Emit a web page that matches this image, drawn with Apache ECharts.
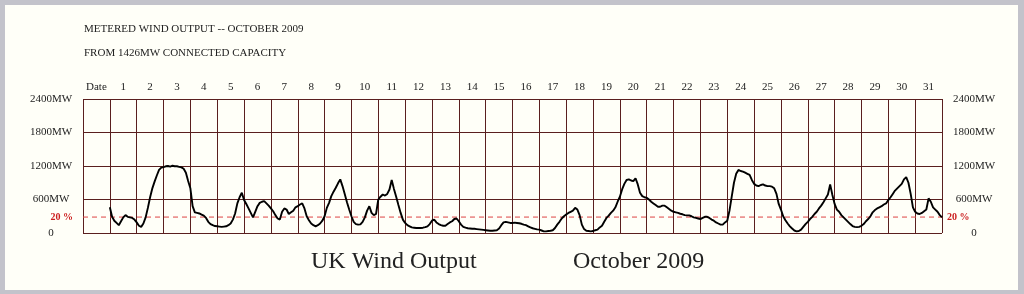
<!DOCTYPE html>
<html><head><meta charset="utf-8">
<script src="https://cdn.jsdelivr.net/npm/echarts@6/dist/echarts.min.js"></script>
<style>
html,body{margin:0;padding:0;width:1024px;height:294px;background:#c3c3cb;overflow:hidden}
#panel{position:absolute;left:5px;top:5px;width:1013px;height:285px;background:#fffff8}
#chart{position:absolute;left:0;top:0;width:1024px;height:294px}
</style></head>
<body><div id="panel"></div><div id="chart"></div>
<script>
// ---- data ----
const titleLines = ['METERED WIND OUTPUT -- OCTOBER 2009', 'FROM 1426MW CONNECTED CAPACITY'];
const footerTexts = ['UK Wind Output', 'October 2009'];
const dayLabels = ['Date','1','2','3','4','5','6','7','8','9','10','11','12','13','14','15','16',
  '17','18','19','20','21','22','23','24','25','26','27','28','29','30','31'];
const yTickValues = [0, 600, 1200, 1800, 2400];
const yTickLabels = ['0', '600MW', '1200MW', '1800MW', '2400MW'];
const capacityMW = 1426;
const thresholdPct = 20;
const sampleHours = 2; // one reading every 2 hours from 1 Oct 00:00
const outputMW = [
  460, 290, 220, 180, 140, 210, 280, 320, 290, 280, 270, 240,       // 1
  190, 130, 110, 170, 280, 450, 640, 800, 920, 1030, 1130, 1170,    // 2
  1180, 1195, 1200, 1190, 1205, 1195, 1195, 1185, 1175, 1150, 1080, 930, // 3
  800, 480, 370, 360, 350, 330, 310, 270, 200, 160, 140, 125,       // 4
  120, 115, 110, 115, 120, 140, 170, 240, 350, 530, 640, 720,       // 5
  590, 520, 440, 360, 280, 380, 480, 540, 560, 570, 530, 490,       // 6
  440, 390, 320, 260, 240, 380, 440, 420, 340, 370, 400, 460,       // 7
  480, 510, 530, 440, 300, 230, 170, 140, 120, 140, 170, 220,       // 8
  300, 450, 540, 660, 740, 810, 890, 960, 840, 700, 550, 420,       // 9
  300, 200, 160, 150, 155, 200, 280, 400, 480, 360, 320, 340,       // 10
  600, 650, 690, 670, 700, 780, 950, 790, 650, 500, 360, 240,       // 11
  180, 140, 120, 100, 95, 90, 90, 90, 95, 105, 120, 160,            // 12
  220, 240, 190, 160, 140, 130, 130, 160, 190, 210, 250, 260,       // 13
  210, 150, 110, 95, 85, 80, 75, 75, 70, 65, 60, 55,                // 14
  50, 45, 40, 40, 45, 50, 80, 140, 190, 200, 190, 180,              // 15
  180, 185, 180, 175, 165, 150, 140, 120, 100, 85, 75, 65,          // 16
  60, 45, 30, 30, 35, 40, 50, 90, 150, 200, 260, 300,               // 17
  330, 360, 380, 400, 450, 420, 320, 150, 70, 40, 35, 30,           // 18
  35, 50, 60, 100, 130, 200, 270, 310, 360, 400, 460, 560,          // 19
  650, 780, 880, 950, 960, 940, 930, 980, 870, 720, 660, 640,       // 20
  630, 600, 560, 530, 500, 470, 470, 490, 490, 460, 430, 400,       // 21
  380, 370, 360, 345, 335, 320, 315, 315, 300, 280, 270, 260,       // 22
  250, 270, 290, 290, 270, 240, 220, 190, 170, 150, 150, 190,       // 23
  220, 400, 650, 900, 1060, 1130, 1110, 1100, 1080, 1060, 1040, 950, // 24
  880, 850, 840, 860, 870, 850, 840, 840, 830, 800, 700, 520,       // 25
  420, 300, 230, 170, 120, 80, 45, 30, 35, 60, 110, 160,            // 26
  200, 250, 290, 340, 380, 440, 490, 550, 620, 690, 870, 680,       // 27
  520, 420, 380, 320, 280, 240, 200, 160, 125, 110, 105, 110,       // 28
  130, 160, 210, 250, 300, 370, 410, 440, 460, 480, 510, 530,       // 29
  590, 640, 700, 760, 800, 840, 880, 960, 1000, 900, 700, 460,      // 30
  380, 350, 340, 360, 390, 420, 620, 560, 460, 420, 380, 320, 280   // 31
];
const xDomain = [-1, 31]; // 'Date' column + 31 days

// ---- chart ----
const FONT = "'Liberation Serif','Times New Roman',serif";
const GRID = '#5a1f1f';
const TEXT = '#222';
const RED = '#cc2020';
const DASH = '#dd4444';
const threshold = capacityMW * thresholdPct / 100;
const seriesData = outputMW.map((v, i) => [i * sampleHours / 24, v]);
const yLabel = v => yTickLabels[yTickValues.indexOf(v)] ?? String(v);
const pctLabel = (pos, dist) => ({show: true, position: pos, distance: dist, formatter: thresholdPct + ' %',
  color: RED, fontFamily: FONT, fontSize: 10, fontWeight: 'bold'});

const chart = echarts.init(document.getElementById('chart'), null, {renderer: 'canvas'});
chart.setOption({
  backgroundColor: 'transparent',
  animation: false,
  grid: {left: 83, right: 82, top: 99, bottom: 61, containLabel: false},
  xAxis: [
    {type: 'value', min: xDomain[0], max: xDomain[1], interval: 1,
     axisLine: {show: false}, axisTick: {show: false}, axisLabel: {show: false},
     splitLine: {show: true, lineStyle: {color: GRID, width: 1}}},
    {type: 'category', position: 'top', data: dayLabels, boundaryGap: true,
     axisLine: {show: false}, axisTick: {show: false}, splitLine: {show: false},
     axisLabel: {interval: 0, margin: 6, color: TEXT, fontFamily: FONT, fontSize: 11}}
  ],
  yAxis: [
    {type: 'value', min: 0, max: 2400, interval: 600, position: 'left',
     axisLine: {show: false}, axisTick: {show: false},
     splitLine: {show: true, lineStyle: {color: GRID, width: 1}},
     axisLabel: {formatter: yLabel, align: 'center', margin: 32, color: TEXT, fontFamily: FONT, fontSize: 11}},
    {type: 'value', min: 0, max: 2400, interval: 600, position: 'right',
     axisLine: {show: false}, axisTick: {show: false}, splitLine: {show: false},
     axisLabel: {formatter: yLabel, align: 'center', margin: 32, color: TEXT, fontFamily: FONT, fontSize: 11}}
  ],
  series: [
    {
      type: 'line', xAxisIndex: 0, yAxisIndex: 0, clip: false, silent: true,
      symbol: 'circle', symbolSize: 0, showSymbol: true,
      itemStyle: {color: DASH},
      lineStyle: {color: DASH, type: [5, 4], width: 1},
      data: [
        {value: [xDomain[0], threshold], label: pctLabel('left', 10)},
        {value: [xDomain[1], threshold], label: pctLabel('right', 5)}
      ]
    },
    {
      type: 'line', xAxisIndex: 0, yAxisIndex: 0, data: seriesData,
      showSymbol: false, smooth: false, clip: false,
      lineStyle: {color: '#000', width: 1.9}
    }
  ],
  graphic: [
    {type: 'text', x: 84, y: 29, style: {text: titleLines[0], fontFamily: FONT, fontSize: 11, fill: TEXT, verticalAlign: 'middle'}},
    {type: 'text', x: 84, y: 53, style: {text: titleLines[1], fontFamily: FONT, fontSize: 11, fill: TEXT, verticalAlign: 'middle'}},
    {type: 'text', x: 311, y: 262, style: {text: footerTexts[0], fontFamily: FONT, fontSize: 24, fill: TEXT, verticalAlign: 'middle'}},
    {type: 'text', x: 573, y: 262, style: {text: footerTexts[1], fontFamily: FONT, fontSize: 24, fill: TEXT, verticalAlign: 'middle'}}
  ]
});
</script>
</body></html>
